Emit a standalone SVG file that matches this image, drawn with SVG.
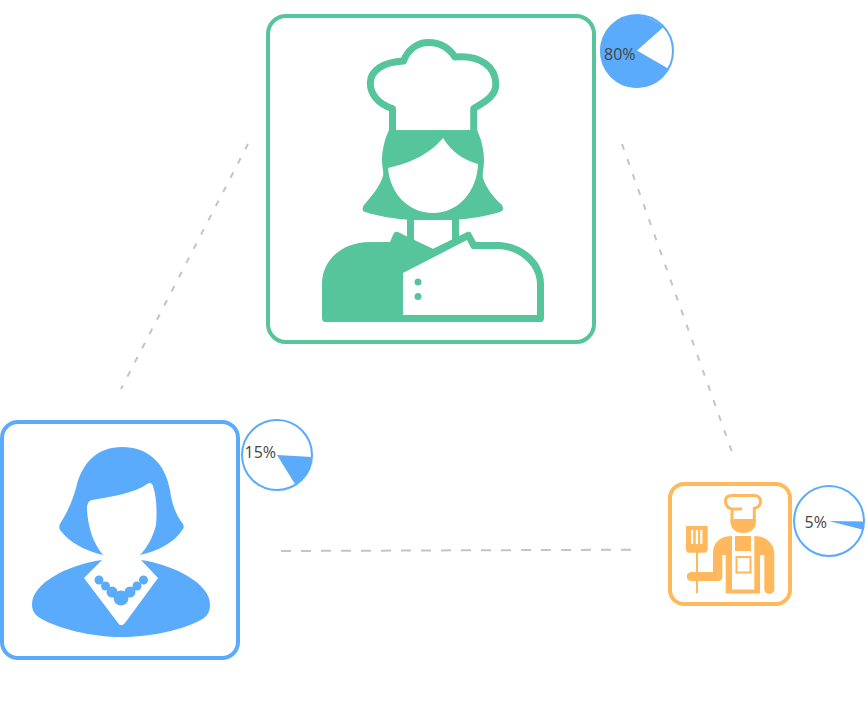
<svg xmlns="http://www.w3.org/2000/svg" width="866" height="710" viewBox="0 0 866 710">
<style>
.g{fill:#57c59b}.b{fill:#5aabfb}.o{fill:#ffb85c}.w{fill:#fff}
.dash{fill:none;stroke:#c4c4c4;stroke-width:2}
.diag{stroke-dasharray:6 10}
.flat{stroke-dasharray:10 10}
.pie{fill:#fff;stroke:#5aabfb;stroke-width:2}
text{font-family:"Open Sans",sans-serif;font-size:16px;fill:#444}
</style>
<rect width="866" height="710" fill="#fff"/>
<g id="connectors">
<path class="dash diag" d="M248 144L121 389"/>
<path class="dash diag" d="M622 144L732 452"/>
<path class="dash flat" d="M281 551L632 549.700"/>
</g>
<g id="chef-woman">
<rect x="268" y="16" width="326" height="326" rx="18" fill="#fff" stroke="#57c59b" stroke-width="4"/>
<path d="M392.500 134V108.500C378 104 370.300 94 370.300 83C370.300 70 384 62 403.500 61C408 49 418 42.500 428.500 42.500C440 42.500 449 48 455 57C481 55 495.500 67 495.800 84C496 95 487 101 473.700 108.500V134" fill="#fff" stroke="#57c59b" stroke-width="7" stroke-linejoin="round"/>
<path class="g" d="M389 130H477C481 138 484 150 484 160C484 168 482 174 483 178C486 188 494 198 502 205C504 209 503 211 500 212C487 216 470 219 452 220H412C394 219 378 216 365 212C362 211 362 208 364 205C372 196 380 186 383 176C384 172 382 168 382 160C382 150 385 138 389 130Z"/>
<path class="w" d="M388 168C412 163 432 152 443 138C451 151 463 160 478 164C477 192 458 213 433 213C408 213 390 193 388 168Z"/>
<path class="g" d="M407 218H414V240L433 249L452 240V218H459V244L433 258L407 244Z"/>
<path class="g" d="M390 242L393 235C394 232 396 231 398 232L414 240L433 249L467 232C470 231 471 232 472 235L476 242H497C522 242 544 260 544 284V318C544 320 543 322 541 322H325C323 322 322 320 322 318V284C322 260 342 242 370 242Z"/>
<path class="w" d="M403 273L467 240L471 248C472 249 472 249 474 249H497C518 249 537 265 537 284V315H403Z"/>
<circle class="g" cx="418" cy="282" r="3.500"/>
<circle class="g" cx="418" cy="296.500" r="3.500"/>
</g>
<g id="pie-80">
<circle class="pie" cx="637" cy="51" r="36"/>
<path class="b" d="M637 50.500L668 68.500A36 36 0 1 1 663 27.500Z"/>
<text x="604" y="60">80%</text>
</g>
<g id="woman">
<rect x="2" y="422" width="236" height="236" rx="16" fill="#fff" stroke="#5aabfb" stroke-width="4"/>
<path class="b" d="M122 447C147 447 165 462 170 490C172 505 176 515 183 524C184 526 184 528 183 529C174 543 158 551 140 555L103 555C85 551 69 542 60 530C59 528 59 526 60 524C67 513 72 502 76 488C82 462 98 447 122 447Z"/>
<path class="w" d="M92 500C110 497 135 493 147 484C150 482 152 483 153 486C157 498 157 515 156 525C153 537 147 548 140 555H103C93 543 88 527 87 510C87 504 88 501 92 500Z"/>
<path class="b" d="M102 560C66 565 32 584 32 604C32 611 35 615 40 618C58 629 93 637 121 637C150 637 185 630 204 618C208 615 210 611 210 604C210 584 175 565 141 560L158 578L125 623C122 626 120 626 118 623L84 578Z"/>
<circle class="b" cx="99" cy="580" r="4.500"/><circle class="b" cx="105.500" cy="586" r="4.500"/><circle class="b" cx="112" cy="592" r="5.500"/><circle class="b" cx="121" cy="598" r="7.500"/><circle class="b" cx="130" cy="592" r="5.500"/><circle class="b" cx="137" cy="586" r="4.500"/><circle class="b" cx="143.500" cy="580" r="4.500"/>
</g>
<g id="pie-15">
<circle class="pie" cx="277" cy="455" r="35"/>
<path class="b" d="M277 455L312 457A35 35 0 0 1 295 484Z"/>
<text x="244.500" y="458">15%</text>
</g>
<g id="cook">
<rect x="670" y="484" width="120" height="120" rx="14" fill="#fff" stroke="#ffb85c" stroke-width="4"/>
<path d="M742 509H732C727 508 725.500 505 725.500 501C725.500 497 728 495.500 732 495.500H754C758.500 495.500 760.500 498 760.500 501.500C760.500 505 758 507.500 754.300 508.500V522M732 509V522" fill="none" stroke="#ffb85c" stroke-width="3"/>
<path class="o" d="M730.500 519H755.800V522C755.800 529 750 533 743 533C736 533 730.500 529 730.500 522Z"/>
<path class="o" d="M686 526H707.700V549C707.700 551.500 706.500 552.700 704 552.700H698V592C698 594 696 594 696 592V552.700H689.500C687 552.700 686 551.500 686 549Z"/>
<path class="w" d="M691 530h2.200v14h-2.200zM695.800 530h2.200v14h-2.200zM700.200 530h2.200v14h-2.200z"/>
<path class="o" d="M691 572H713V553C713 542 721 536 732 536H754C766 536 774.300 543 774.300 554V589C774.300 595.500 764.300 595.500 764.300 589V555H760V593.500H725.700V555H722.300V577C722.300 580 720 581 718 581H691C685.500 581 685.500 572 691 572Z"/>
<path class="w" d="M732 536H754.300V589.500H732Z"/>
<rect class="o" x="735" y="536" width="16" height="15"/>
<rect x="736.500" y="557" width="14" height="15.500" fill="#fff" stroke="#ffb85c" stroke-width="2"/>
</g>
<g id="pie-5">
<circle class="pie" cx="829" cy="521" r="35"/>
<path class="b" d="M829 521L864 521.500V530Z"/>
<text x="804.500" y="528">5%</text>
</g>
</svg>
